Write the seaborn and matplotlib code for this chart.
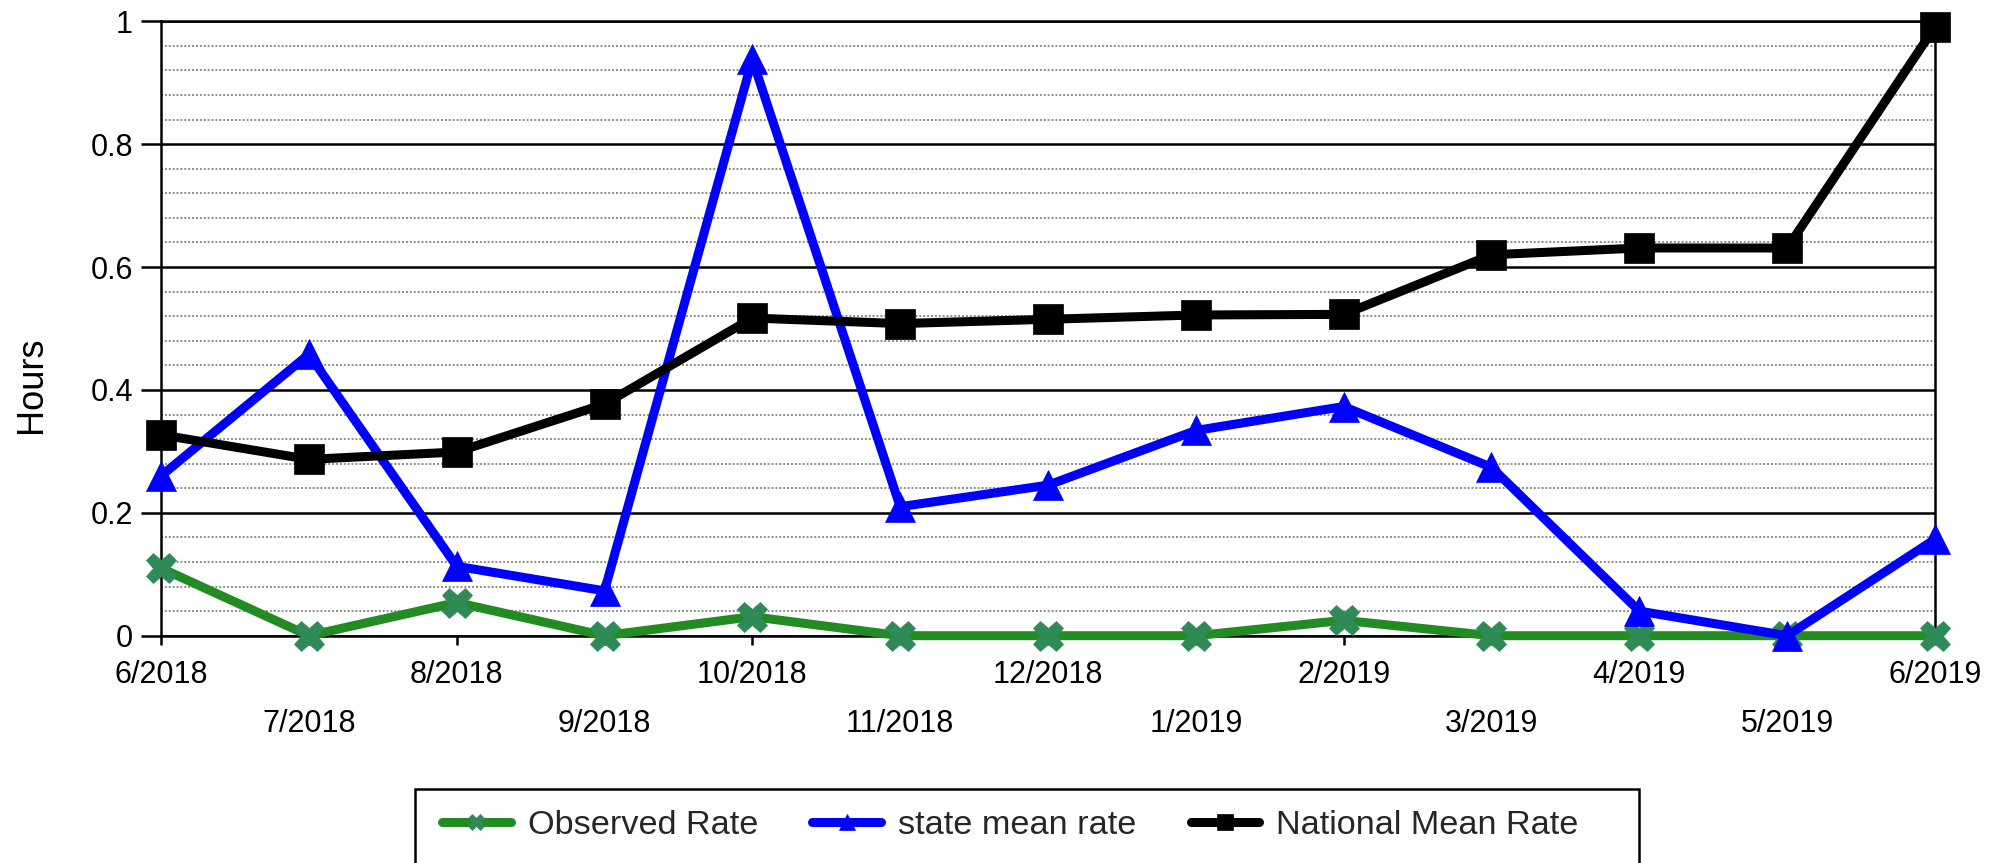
import numpy as np
import pandas as pd
import matplotlib
matplotlib.use("Agg")
import matplotlib.pyplot as plt
from matplotlib.patches import Rectangle
import seaborn as sns

months = ["6/2018", "7/2018", "8/2018", "9/2018", "10/2018", "11/2018", "12/2018",
          "1/2019", "2/2019", "3/2019", "4/2019", "5/2019", "6/2019"]
observed_rate = [0.110, 0.0, 0.054, 0.0, 0.031, 0.0, 0.0, 0.0, 0.025, 0.0, 0.0, 0.0, 0.0]
state_mean_rate = [0.260, 0.458, 0.113, 0.073, 0.938, 0.210, 0.245, 0.334, 0.373, 0.274, 0.040, 0.0, 0.157]
national_mean_rate = [0.327, 0.287, 0.299, 0.377, 0.517, 0.508, 0.515, 0.522, 0.523, 0.620, 0.631, 0.631, 0.991]
series_names = ["Observed Rate", "state mean rate", "National Mean Rate"]
y_ticks = [0, 0.2, 0.4, 0.6, 0.8, 1]
y_tick_labels = ["0", "0.2", "0.4", "0.6", "0.8", "1"]

sns.set_theme(style="white")
plt.rcParams["font.family"] = ["Liberation Sans", "DejaVu Sans"]

W, H = 2013, 863
fig = plt.figure(figsize=(W / 100, H / 100), dpi=100)
ax = fig.add_axes([161 / W, 1 - 635.7 / H, (1935 - 161) / W, (635.7 - 21.3) / H])

x = np.arange(len(months))

styles = [
    dict(color="#228B22", marker="X", markerfacecolor="#2E8B57", markeredgecolor="#2E8B57"),
    dict(color="#0000FF", marker="^", markerfacecolor="#0000FF", markeredgecolor="#0000FF"),
    dict(color="#000000", marker="s", markerfacecolor="#000000", markeredgecolor="#000000"),
]
for vals, name, st in zip([observed_rate, state_mean_rate, national_mean_rate], series_names, styles):
    sns.lineplot(x=x, y=vals, ax=ax, label=name, linewidth=6.5, markersize=22,
                 markeredgewidth=0.5, clip_on=False, zorder=3, **st)

ax.set_xlim(0, len(months) - 1)
ax.set_ylim(0, 1)

# y axis
ax.set_yticks(y_ticks)
ax.set_yticklabels(y_tick_labels)
ax.set_yticks(np.arange(0, 1.0001, 0.04), minor=True)
ax.tick_params(axis="y", which="major", length=14.4, width=1.8, pad=5.8,
               labelsize=22, color="black", labelcolor="black", left=True)
ax.tick_params(axis="y", which="minor", length=0, left=False)
ax.yaxis.grid(True, which="major", color="black", linewidth=1.8, linestyle="-")
ax.yaxis.grid(True, which="minor", color="#8c8c8c", linewidth=1.4, linestyle=(0, (1, 1)))
ax.xaxis.grid(False)
ax.set_axisbelow(True)

# x axis: two staggered rows
ax.set_xticks(x[::2])
ax.set_xticklabels(months[::2])
ax.set_xticks(x[1::2], minor=True)
ax.set_xticklabels(months[1::2], minor=True)
ax.tick_params(axis="x", which="major", length=6.5, width=1.8, pad=11, labelsize=22,
               color="black", labelcolor="black", bottom=True)
ax.tick_params(axis="x", which="minor", length=6.5, width=1.8, pad=46, labelsize=22,
               color="black", labelcolor="black", bottom=True)

for s in ax.spines.values():
    s.set_visible(True)
    s.set_color("black")
    s.set_linewidth(1.8)

ax.set_xlabel("")
ax.set_ylabel("")
fig.text(31 / W, 1 - 385 / H, "Hours", rotation=90, ha="center", va="center",
         fontsize=26, color="black")

handles, labels = ax.get_legend_handles_labels()
if ax.get_legend() is not None:
    ax.get_legend().remove()
leg = fig.legend(handles, labels, loc="center left", bbox_to_anchor=(442 / W, 1 - 825 / H),
                 ncol=3, fontsize=24.7, frameon=False,
                 borderpad=0, borderaxespad=0, handlelength=2.0, handletextpad=0.5,
                 columnspacing=1.58, markerscale=0.5)

# legend frame (extends past the bottom edge, as in the reference)
frame = Rectangle((415 / W, -0.1), (1639 - 415) / W, (1 - 789 / H) + 0.1,
                  transform=fig.transFigure, fill=False, edgecolor="black",
                  linewidth=1.8, clip_on=False)
fig.patches.append(frame)

fig.savefig("out.png", dpi=100)
